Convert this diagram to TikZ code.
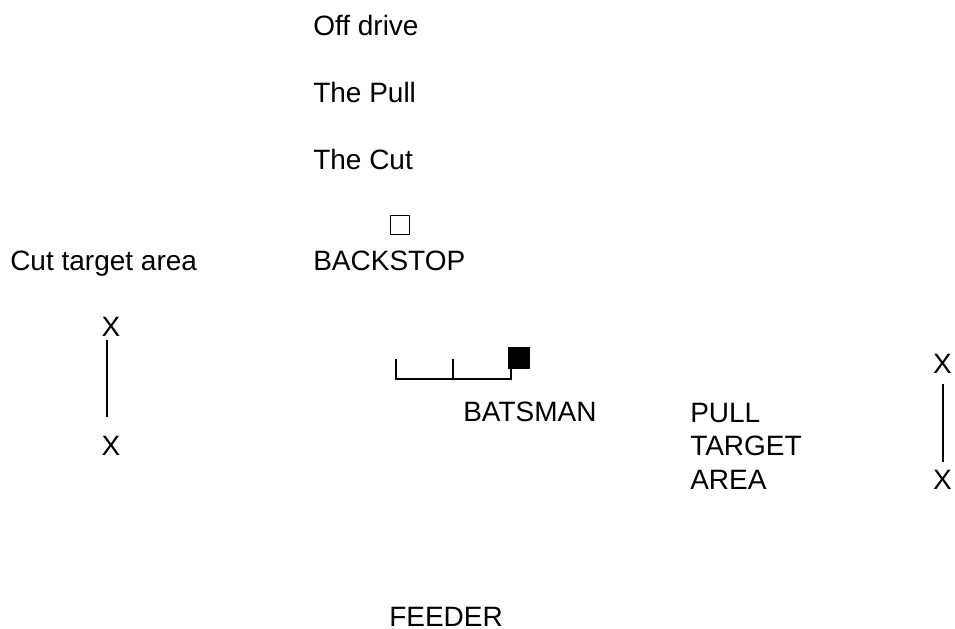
\documentclass[tikz,border=0pt]{standalone}
\usepackage{fontspec}
\setmainfont{Liberation Sans}
\begin{document}
\begin{tikzpicture}[x=0.75pt,y=-0.75pt,
  txt/.style={anchor=base west,inner sep=0pt,font=\fontsize{21}{25}\selectfont},
  mark x/.style={anchor=base,inner sep=0pt,font=\fontsize{21}{25}\selectfont},
  ln/.style={line width=1.2pt},
  opensq/.style={draw,line width=1.2pt,minimum size=14.5pt,inner sep=0pt},
  fullsq/.style={fill=black,minimum size=16.5pt,inner sep=0pt}]
\useasboundingbox (0,0) rectangle (955,628);
% top labels
\node[txt] (offdrive) at (313,35) {Off drive};
\node[txt] (pull) at (313,102) {The Pull};
\node[txt] (cut) at (313,169) {The Cut};
\node[opensq] (backsq) at (400,225) {};
\node[txt] (backstop) at (313,270) {BACKSTOP};
\node[txt] (cuttarget) at (10,270) {Cut target area};
% left target
\node[mark x] (lx1) at (111,336) {X};
\node[mark x] (lx2) at (111,455) {X};
\coordinate (la) at (107,340);
\coordinate (lb) at (107,417);
\draw[ln] (la) -- (lb);
% wicket and batsman
\node[fullsq] (batsq) at (518.5,358) {};
\coordinate (w1t) at (396,359);
\coordinate (w1b) at (396,379);
\coordinate (w2t) at (453,359);
\coordinate (w2b) at (453,379);
\coordinate (w3b) at (511,379);
\draw[ln] (w1t) -- (w1b) -- (w3b) -- (w3b |- batsq.south);
\draw[ln] (w2t) -- (w2b);
\node[txt] (batsman) at (463,421) {BATSMAN};
% pull target
\node[txt] (pt1) at (690,422) {PULL};
\node[txt] (pt2) at (690,455) {TARGET};
\node[txt] (pt3) at (690,489) {AREA};
\node[mark x] (rx1) at (942.5,373) {X};
\node[mark x] (rx2) at (942.5,489) {X};
\coordinate (ra) at (942.7,384);
\coordinate (rb) at (942.7,462);
\draw[ln] (ra) -- (rb);
% feeder
\node[txt] (feeder) at (389,626) {FEEDER};
\end{tikzpicture}
\end{document}
